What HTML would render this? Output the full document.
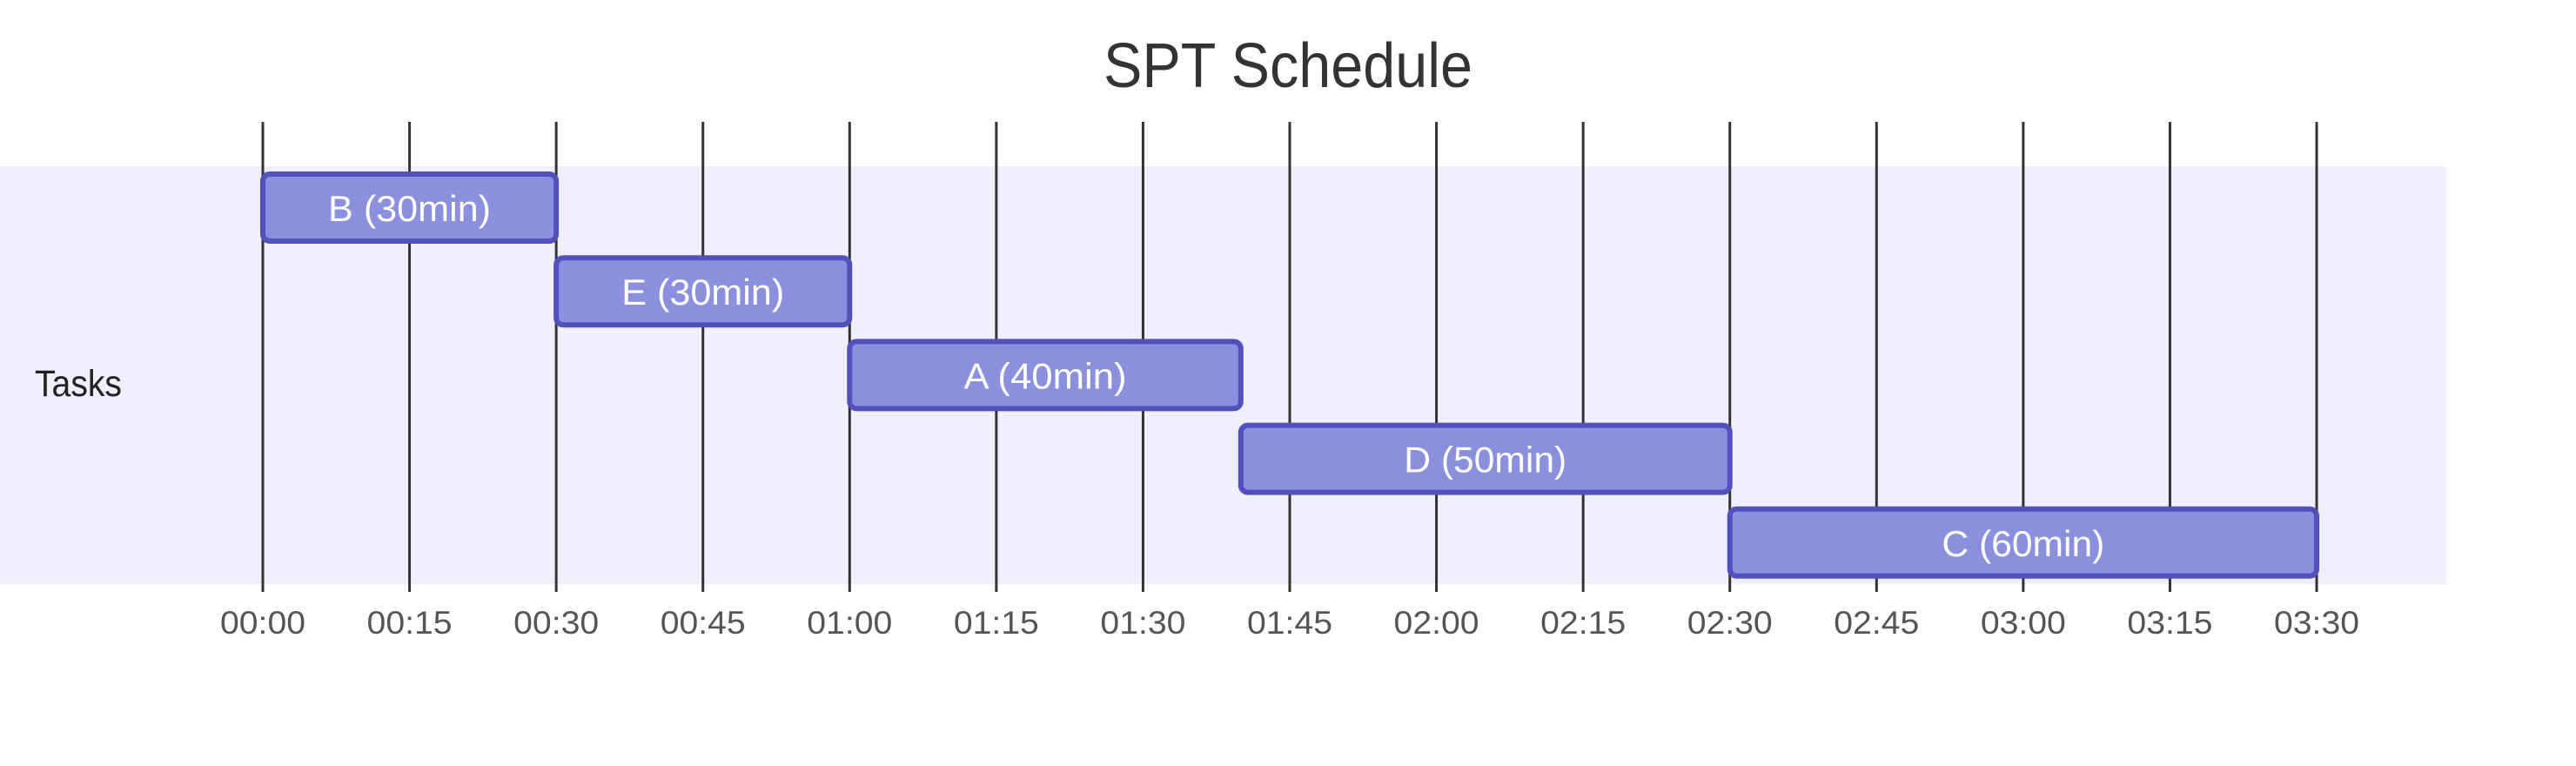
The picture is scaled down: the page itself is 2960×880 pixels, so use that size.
<!DOCTYPE html>
<html><head><meta charset="utf-8"><style>
html,body{margin:0;padding:0;background:#fff;}
svg{display:block;font-family:"Liberation Sans",sans-serif;}
</style></head><body>
<svg id="chart" width="2960" height="880" viewBox="0 0 2960 880" xmlns="http://www.w3.org/2000/svg">
<rect x="0" y="191" width="2811" height="480" fill="#efeffd"/>
<g id="grid"></g>
<g id="ticks"></g>
<g id="bars"></g>
<text x="1480" y="100" text-anchor="middle" font-size="72" fill="#333" textLength="424" lengthAdjust="spacingAndGlyphs">SPT Schedule</text>
<text x="40" y="455" font-size="43" fill="#222" textLength="100" lengthAdjust="spacingAndGlyphs">Tasks</text>
</svg>
<script>
const taskNames = ["B (30min)", "E (30min)", "A (40min)", "D (50min)", "C (60min)"];
const taskStarts = [0, 30, 60, 100, 150];
const taskDurations = [30, 30, 40, 50, 60];
const tickMinutes = [0,15,30,45,60,75,90,105,120,135,150,165,180,195,210];
const tickLabels = ["00:00","00:15","00:30","00:45","01:00","01:15","01:30","01:45","02:00","02:15","02:30","02:45","03:00","03:15","03:30"];

const NS = "http://www.w3.org/2000/svg";
const x0 = 302, pxPerMin = 2360/210;
function xScale(m){ return x0 + m*pxPerMin; }
function yRow(i){ return 197 + i*96.2; }

const grid = document.getElementById('grid');
const ticks = document.getElementById('ticks');
tickMinutes.forEach((m,i)=>{
  const l = document.createElementNS(NS,'line');
  
  
  const x = xScale(m);
  l.setAttribute('x1',x); l.setAttribute('x2',x);
  l.setAttribute('y1',140); l.setAttribute('y2',680);
  l.setAttribute('stroke','#333'); l.setAttribute('stroke-width','3');
  grid.appendChild(l);
  const t = document.createElementNS(NS,'text');
  
  
  t.setAttribute('x',x); t.setAttribute('y',728);
  t.setAttribute('text-anchor','middle');
  t.setAttribute('font-size','37');
  t.setAttribute('fill','#555');
  t.setAttribute('textLength','98');
  t.setAttribute('lengthAdjust','spacingAndGlyphs');
  t.textContent = tickLabels[i];
  ticks.appendChild(t);
});

const bars = document.getElementById('bars');
taskNames.forEach((name,i)=>{
  const x1 = xScale(taskStarts[i]), x2 = xScale(taskStarts[i]+taskDurations[i]);
  const y = yRow(i);
  const r = document.createElementNS(NS,'rect');
  
  
  r.setAttribute('x',x1); r.setAttribute('y',y+3);
  r.setAttribute('width',x2-x1); r.setAttribute('height',77);
  r.setAttribute('rx',8);
  r.setAttribute('fill','#8a90dd'); r.setAttribute('stroke','#534fbc'); r.setAttribute('stroke-width','6');
  bars.appendChild(r);
  const t = document.createElementNS(NS,'text');
  
  
  t.setAttribute('x',(x1+x2)/2); t.setAttribute('y',y+57);
  t.setAttribute('text-anchor','middle');
  t.setAttribute('font-size','42');
  t.setAttribute('fill','#fff');
  t.setAttribute('textLength','187');
  t.setAttribute('lengthAdjust','spacingAndGlyphs');
  t.textContent = name;
  bars.appendChild(t);
});
</script>
</body></html>
